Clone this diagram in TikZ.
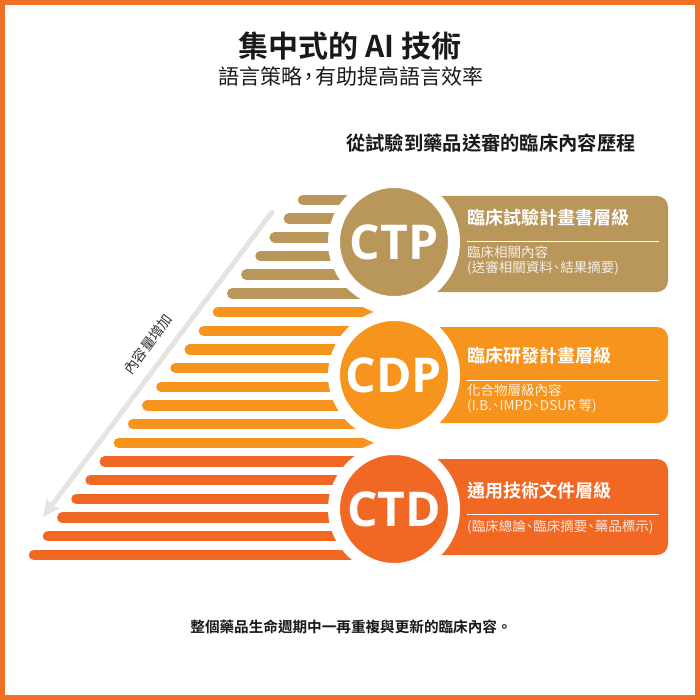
\documentclass[tikz,border=0pt]{standalone}
\usepackage{fontspec}
\usetikzlibrary{arrows.meta}
\newfontfamily\cjk{Noto Sans CJK TC}[BoldFont={Noto Sans CJK TC Bold}]
\newfontfamily\badgefont{Open Sans}[BoldFont={Open Sans Bold}]
\definecolor{ctpcol}{RGB}{185,150,90}
\definecolor{cdpcol}{RGB}{246,148,30}
\definecolor{ctdcol}{RGB}{240,104,36}
\definecolor{framecol}{RGB}{240,110,40}
\definecolor{arrowcol}{RGB}{228,228,228}
\newcommand\dun{\hspace{-0.22em}、\hspace{-0.22em}}
\newcommand\narrowcomma{\hspace{-0.2em}，\hspace{-0.2em}}
\tikzset{
  bar/.style={line width=10.5pt, line cap=round},
  levelbox/.style={rounded corners=11pt, minimum width=274pt, minimum height=96pt, inner sep=0pt},
  badge/.style={circle, draw=white, line width=12pt, minimum size=120pt, inner sep=0pt,
    text=white, font=\badgefont\bfseries\fontsize{48}{48}\selectfont},
  leveltitle/.style={anchor=west, inner sep=0pt, text=white, font=\cjk\bfseries\fontsize{18}{18}\selectfont},
  levelnote/.style={anchor=west, inner sep=0pt, text=white, text opacity=0.85,
    font=\cjk\fontsize{13.5}{13.5}\selectfont},
  headline/.style={inner sep=0pt, text=black!90, font=\cjk\bfseries\fontsize{#1}{#1}\selectfont}
}
\begin{document}
\begin{tikzpicture}[x=1pt, y=-1pt]
  \useasboundingbox (0,0) rectangle (700,700);
  \draw[framecol, line width=5pt] (2.5,2.5) rectangle (697.5,697.5);

  \node[headline=30] (title) at (350,46) {集中式的 AI 技術};
  \node[inner sep=0pt, text=black!90, font=\cjk\fontsize{21}{21}\selectfont] (subtitle) at (351,76) {語言策略\narrowcomma 有助提高語言效率};
  \node[headline=19.3] (path) at (491,143) {從試驗到藥品送審的臨床內容歷程};
  \node[headline=14.6] (footer) at (351,627) {整個藥品生命週期中一再重複與更新的臨床內容。};

  \foreach \i in {0,...,19}{
    \pgfmathsetmacro\by{200+18.68*\i}
    \pgfmathsetmacro\bx{303-14.16*\i}
    \ifnum\i<6 \def\bc{ctpcol}\else\ifnum\i<14 \def\bc{cdpcol}\else\def\bc{ctdcol}\fi\fi
    \draw[bar, \bc] (\bx,\by) -- (362,\by);
    \fill[\bc] (362,\by-5.25) -- (374,\by) -- (362,\by+5.25) -- cycle;
  }

  \node[levelbox, fill=ctpcol] (ctpbox) at (531,244) {};
  \node[levelbox, fill=cdpcol] (cdpbox) at (531,375) {};
  \node[levelbox, fill=ctdcol] (ctdbox) at (531,507) {};

  \node[badge, fill=ctpcol] (ctp) at (394,242) {CTP};
  \node[badge, fill=cdpcol] (cdp) at (394,375) {CDP};
  \node[badge, fill=ctdcol] (ctd) at (394,509) {CTD};

  \node[leveltitle] (ctptitle) at (467,218) {臨床試驗計畫書層級};
  \draw[white, line width=0.8pt] (467,241) -- (659,241);
  \node[levelnote] (ctpnote1) at (467,252) {臨床相關內容};
  \node[levelnote] (ctpnote2) at (467,268) {(送審相關資料\dun 結果摘要)};

  \node[leveltitle] (cdptitle) at (467,356) {臨床研發計畫層級};
  \draw[white, line width=0.8pt] (467,380) -- (659,380);
  \node[levelnote] (cdpnote1) at (467,390) {化合物層級內容};
  \node[levelnote] (cdpnote2) at (467,406) {(I.B.\dun IMPD\dun DSUR 等)};

  \node[leveltitle] (ctdtitle) at (467,491) {通用技術文件層級};
  \draw[white, line width=0.8pt] (467,514) -- (659,514);
  \node[levelnote] (ctdnote) at (467,527) {(臨床總論\dun 臨床摘要\dun 藥品標示)};

  \coordinate (arrowtop) at (272,212);
  \coordinate (arrowtip) at (43,517);
  \draw[arrowcol, line width=5pt, line cap=round,
    -{Stealth[length=17pt, width=16pt, inset=3pt]}] (arrowtop) -- (arrowtip);
  \node[rotate=53, inner sep=0pt, text=black!80, font=\cjk\fontsize{14}{14}\selectfont] (more) at (148,344) {內容量增加};
\end{tikzpicture}
\end{document}
